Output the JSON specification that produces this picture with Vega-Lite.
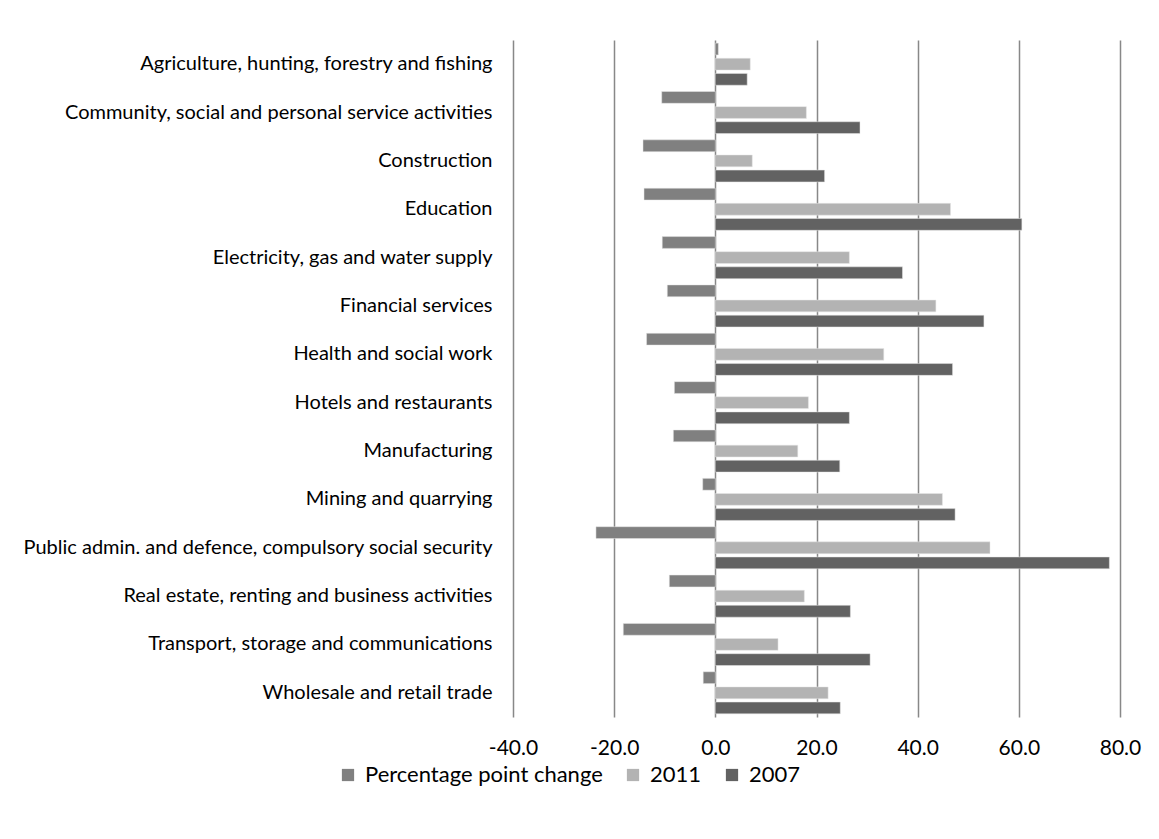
{
  "$schema": "https://vega.github.io/schema/vega-lite/v6.json",
  "width": 607,
  "height": 677,
  "padding": {"left": 22, "top": 40, "right": 5, "bottom": 5},
  "background": "white",
  "config": {
    "font": "Lato",
    "view": {"stroke": null}
  },
  "data": {
    "values": [
      {"sector": "Agriculture, hunting, forestry and fishing", "series": "Percentage point change", "value": 0.6},
      {"sector": "Agriculture, hunting, forestry and fishing", "series": "2011", "value": 6.9},
      {"sector": "Agriculture, hunting, forestry and fishing", "series": "2007", "value": 6.3},
      {"sector": "Community, social and personal service activities", "series": "Percentage point change", "value": -10.6},
      {"sector": "Community, social and personal service activities", "series": "2011", "value": 18.0},
      {"sector": "Community, social and personal service activities", "series": "2007", "value": 28.6},
      {"sector": "Construction", "series": "Percentage point change", "value": -14.3},
      {"sector": "Construction", "series": "2011", "value": 7.3},
      {"sector": "Construction", "series": "2007", "value": 21.6},
      {"sector": "Education", "series": "Percentage point change", "value": -14.1},
      {"sector": "Education", "series": "2011", "value": 46.5},
      {"sector": "Education", "series": "2007", "value": 60.6},
      {"sector": "Electricity, gas and water supply", "series": "Percentage point change", "value": -10.5},
      {"sector": "Electricity, gas and water supply", "series": "2011", "value": 26.5},
      {"sector": "Electricity, gas and water supply", "series": "2007", "value": 37.0},
      {"sector": "Financial services", "series": "Percentage point change", "value": -9.5},
      {"sector": "Financial services", "series": "2011", "value": 43.6},
      {"sector": "Financial services", "series": "2007", "value": 53.1},
      {"sector": "Health and social work", "series": "Percentage point change", "value": -13.6},
      {"sector": "Health and social work", "series": "2011", "value": 33.3},
      {"sector": "Health and social work", "series": "2007", "value": 46.9},
      {"sector": "Hotels and restaurants", "series": "Percentage point change", "value": -8.1},
      {"sector": "Hotels and restaurants", "series": "2011", "value": 18.4},
      {"sector": "Hotels and restaurants", "series": "2007", "value": 26.5},
      {"sector": "Manufacturing", "series": "Percentage point change", "value": -8.3},
      {"sector": "Manufacturing", "series": "2011", "value": 16.3},
      {"sector": "Manufacturing", "series": "2007", "value": 24.6},
      {"sector": "Mining and quarrying", "series": "Percentage point change", "value": -2.5},
      {"sector": "Mining and quarrying", "series": "2011", "value": 44.9},
      {"sector": "Mining and quarrying", "series": "2007", "value": 47.4},
      {"sector": "Public admin. and defence, compulsory social security", "series": "Percentage point change", "value": -23.6},
      {"sector": "Public admin. and defence, compulsory social security", "series": "2011", "value": 54.3},
      {"sector": "Public admin. and defence, compulsory social security", "series": "2007", "value": 77.9},
      {"sector": "Real estate, renting and business activities", "series": "Percentage point change", "value": -9.1},
      {"sector": "Real estate, renting and business activities", "series": "2011", "value": 17.6},
      {"sector": "Real estate, renting and business activities", "series": "2007", "value": 26.7},
      {"sector": "Transport, storage and communications", "series": "Percentage point change", "value": -18.2},
      {"sector": "Transport, storage and communications", "series": "2011", "value": 12.4},
      {"sector": "Transport, storage and communications", "series": "2007", "value": 30.6},
      {"sector": "Wholesale and retail trade", "series": "Percentage point change", "value": -2.4},
      {"sector": "Wholesale and retail trade", "series": "2011", "value": 22.3},
      {"sector": "Wholesale and retail trade", "series": "2007", "value": 24.7}
    ]
  },
  "mark": {"type": "bar", "stroke": "#e6e6e6", "strokeWidth": 0.5},
  "encoding": {
    "y": {
      "field": "sector",
      "type": "nominal",
      "sort": null,
      "scale": {"paddingInner": 0.13, "paddingOuter": 0.065},
      "axis": {
        "title": null,
        "domain": false,
        "ticks": false,
        "grid": false,
        "labelFontSize": 20,
        "labelColor": "#000000",
        "labelPadding": 21,
        "labelLimit": 0
      }
    },
    "yOffset": {
      "field": "series",
      "type": "nominal",
      "sort": ["Percentage point change", "2011", "2007"],
      "scale": {"paddingInner": 0.22}
    },
    "x": {
      "field": "value",
      "type": "quantitative",
      "scale": {"domain": [-40, 80], "nice": false, "zero": false},
      "axis": {
        "title": null,
        "values": [-40, -20, 0, 20, 40, 60, 80],
        "labelExpr": "replace(format(datum.value, '.1f'), '\u2212', '-')",
        "labelFlush": false,
        "labelOverlap": false,
        "domain": false,
        "ticks": false,
        "grid": true,
        "gridColor": "#888888",
        "gridWidth": 1.5,
        "labelFontSize": 21,
        "labelColor": "#000000",
        "labelPadding": 20
      }
    },
    "color": {
      "field": "series",
      "type": "nominal",
      "sort": ["Percentage point change", "2011", "2007"],
      "scale": {
        "domain": ["Percentage point change", "2011", "2007"],
        "range": ["#808080", "#b3b3b3", "#626262"]
      },
      "legend": {
        "title": null,
        "orient": "none",
        "legendX": -176,
        "legendY": 724,
        "direction": "horizontal",
        "symbolType": "square",
        "symbolSize": 150,
        "symbolStrokeWidth": 0,
        "labelFontSize": 22,
        "labelColor": "#000000",
        "labelLimit": 0,
        "labelOffset": 6,
        "columnPadding": 19
      }
    }
  }
}
